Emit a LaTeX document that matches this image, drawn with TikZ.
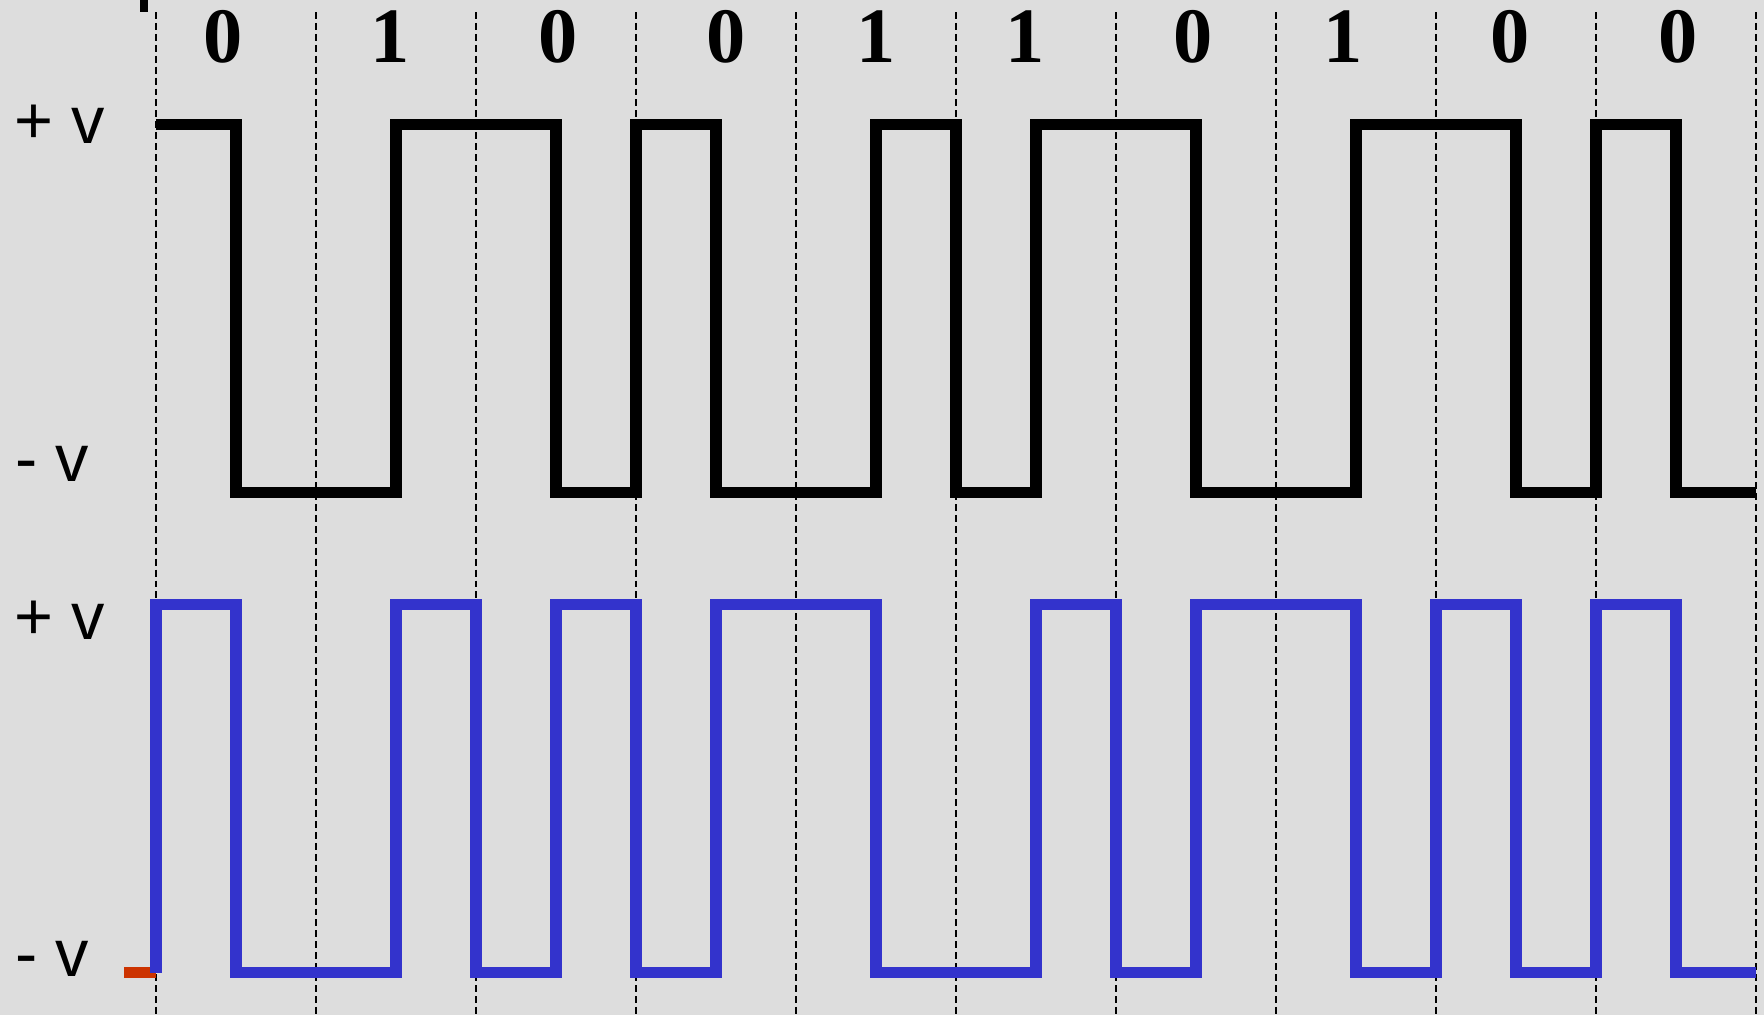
\documentclass[tikz,border=0pt]{standalone}
\usepackage{fontspec}
\setmainfont{Liberation Serif}
\setsansfont{Liberation Sans}
\definecolor{bgc}{RGB}{221,221,221}
\definecolor{wblue}{RGB}{51,51,204}
\definecolor{wred}{RGB}{204,51,0}
\tikzset{
  grid line/.style={black, line width=1.6pt, dash pattern=on 5.2pt off 3pt},
  wave/.style={line width=8.6pt, line join=miter, line cap=butt},
  lvl/.style={anchor=base west, inner sep=0pt, font=\sffamily\fontsize{50}{50}\selectfont},
  bit/.style={anchor=base, inner sep=0pt, font=\rmfamily\bfseries\fontsize{58.8}{58.8}\selectfont}
}
\begin{document}
\begin{tikzpicture}[x=0.75pt, y=-0.75pt]
\useasboundingbox (0,0) rectangle (1764,1015);
\fill[bgc] (0,0) rectangle (1764,1015);
% dashed bit boundaries
\foreach \k in {0,...,10} {
  \draw[grid line] ({156+160*\k},12) -- ({156+160*\k},1015);
}
% small marks
\fill[black] (140,0) rectangle (148,12.3);
\fill[wred] (124,966.7) rectangle (156,978.3);
% level labels
\node[lvl] (tp) at (14,143) {+ v};
\node[lvl] (tm) at (15,481) {- v};
\node[lvl] (bp) at (14,639) {+ v};
\node[lvl] (bm) at (15,976) {- v};
% bits
\node[bit] (b1) at (223,62) {0};
\node[bit] (b2) at (390,62) {1};
\node[bit] (b3) at (558,62) {0};
\node[bit] (b4) at (726,62) {0};
\node[bit] (b5) at (876,62) {1};
\node[bit] (b6) at (1025,62) {1};
\node[bit] (b7) at (1193,62) {0};
\node[bit] (b8) at (1343,62) {1};
\node[bit] (b9) at (1510.5,62) {0};
\node[bit] (b10) at (1678.5,62) {0};
% black waveform
\def\H{124.5}\def\L{492.5}
\draw[wave, black] (156,\H) -- (236,\H) -- (236,\L) -- (396,\L) -- (396,\H) -- (556,\H)
  -- (556,\L) -- (636,\L) -- (636,\H) -- (716,\H) -- (716,\L) -- (876,\L) -- (876,\H)
  -- (956,\H) -- (956,\L) -- (1036,\L) -- (1036,\H) -- (1196,\H) -- (1196,\L)
  -- (1356,\L) -- (1356,\H) -- (1516,\H) -- (1516,\L) -- (1596,\L) -- (1596,\H)
  -- (1676,\H) -- (1676,\L) -- (1756,\L);
% blue waveform
\def\BH{604.5}\def\BL{972.5}
\draw[wave, wblue] (156,\BL) -- (156,\BH) -- (236,\BH) -- (236,\BL) -- (396,\BL) -- (396,\BH)
  -- (476,\BH) -- (476,\BL) -- (556,\BL) -- (556,\BH) -- (636,\BH) -- (636,\BL)
  -- (716,\BL) -- (716,\BH) -- (876,\BH) -- (876,\BL) -- (1036,\BL) -- (1036,\BH)
  -- (1116,\BH) -- (1116,\BL) -- (1196,\BL) -- (1196,\BH) -- (1356,\BH) -- (1356,\BL)
  -- (1436,\BL) -- (1436,\BH) -- (1516,\BH) -- (1516,\BL) -- (1596,\BL) -- (1596,\BH)
  -- (1676,\BH) -- (1676,\BL) -- (1756,\BL);
\end{tikzpicture}
\end{document}
